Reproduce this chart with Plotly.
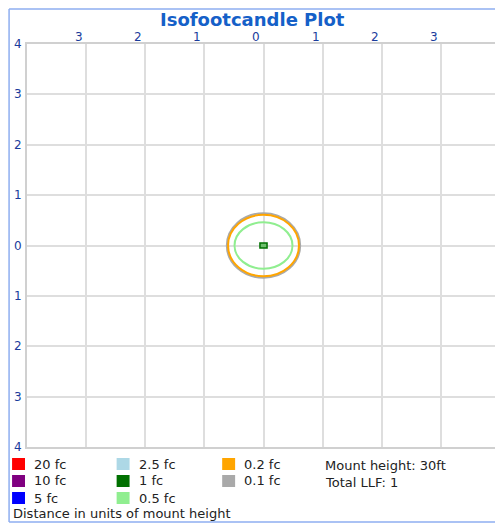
import plotly.graph_objects as go

# ---- data ----
x_ticks = [-3, -2, -1, 0, 1, 2, 3]
y_ticks = [4, 3, 2, 1, 0, -1, -2, -3, -4]
levels = ["20 fc", "10 fc", "5 fc", "2.5 fc", "1 fc", "0.5 fc", "0.2 fc", "0.1 fc"]
level_colors = ["#ff0000", "#800080", "#0000ff", "#add8e6", "#007000", "#90ee90", "#ffa500", "#a9a9a9"]
# contour radius (units of mount height) for the levels that are drawn
contour_levels = ["0.1 fc", "0.2 fc", "0.5 fc", "1 fc"]
contour_rx = [0.62, 0.60, 0.49, 0.06]
contour_ry = [0.64, 0.61, 0.46, 0.05]
info_lines = ["Mount height: 30ft", "Total LLF: 1"]
footer = "Distance in units of mount height"

# page has an 8px body margin; compensate so the picture lands at window coordinates
OX, OY = 8, 8
WIN_W, WIN_H = 503, 531
W, H = WIN_W - OX + 6, WIN_H - 2 * OY
L, T = 27 - OX, 44 - OY
R = 7
B = (OY + H) - 447
pw, ph = W - L - R, H - T - B


def px(x):
    return (x - OX - L) / pw


def py(y):
    return (T + ph - (y - OY)) / ph


fig = go.Figure()
fig.add_trace(go.Scatter(x=[0], y=[0], mode="markers", marker=dict(opacity=0), hoverinfo="skip", showlegend=False))

shapes = []
color_of = dict(zip(levels, level_colors))
for lev, rx, ry in zip(contour_levels, contour_rx, contour_ry):
    c = color_of[lev]
    if lev == "1 fc":
        shapes.append(dict(type="rect", xref="x", yref="y", x0=-rx, x1=rx, y0=-ry, y1=ry,
                           line=dict(color=c, width=1.5), fillcolor="#6fbf6f"))
    else:
        shapes.append(dict(type="circle", xref="x", yref="y", x0=-rx, x1=rx, y0=-ry, y1=ry,
                           line=dict(color=c, width=2)))

# outer light-blue frame (left, top, bottom edges)
fx0, fx1, fy0, fy1 = px(9), px(520), py(522), py(9)
for seg in [(fx0, fy1, fx1, fy1), (fx0, fy0, fx1, fy0), (fx0, fy0, fx0, fy1)]:
    shapes.append(dict(type="line", xref="paper", yref="paper", x0=seg[0], y0=seg[1], x1=seg[2], y1=seg[3],
                       line=dict(color="#8eaef0", width=1.5), layer="below"))

annotations = []
tick_color = "#1a3c9c"
tick_font = dict(family="DejaVu Sans", size=12, color=tick_color)
for v in x_ticks:
    annotations.append(dict(x=v - 0.12, y=py(37), xref="x", yref="paper", text=str(abs(v)),
                            showarrow=False, font=tick_font, xanchor="center", yanchor="middle"))
for v in y_ticks:
    annotations.append(dict(x=px(18), y=v, xref="paper", yref="y", text=str(abs(v)),
                            showarrow=False, font=tick_font, xanchor="center", yanchor="middle"))

# legend
text_font = dict(family="DejaVu Sans", size=13, color="#222222")
col_x = [12, 117, 223]
row_y = [464, 481, 498]
for i, (lev, c) in enumerate(zip(levels, level_colors)):
    col, row = i // 3, i % 3
    x0 = col_x[col]
    yc = row_y[row]
    shapes.append(dict(type="rect", xref="paper", yref="paper", x0=px(x0), x1=px(x0 + 13),
                       y0=py(yc + 6), y1=py(yc - 6), line=dict(width=0), fillcolor=c))
    annotations.append(dict(x=px(x0 + 20), y=py(yc), xref="paper", yref="paper", text=lev,
                            showarrow=False, font=text_font, xanchor="left", yanchor="middle"))
for j, t in enumerate(info_lines):
    annotations.append(dict(x=px(324), y=py(465 + 17 * j), xref="paper", yref="paper", text=t,
                            showarrow=False, font=text_font, xanchor="left", yanchor="middle"))
annotations.append(dict(x=px(12), y=py(522), xref="paper", yref="paper", text=footer,
                        showarrow=False, font=text_font, xanchor="left", yanchor="bottom", borderpad=0))

annotations.append(dict(x=px(253), y=py(8), xref="paper", yref="paper", text="<b>Isofootcandle Plot</b>",
                        showarrow=False, xanchor="center", yanchor="top", borderpad=0,
                        font=dict(family="DejaVu Sans", size=18, color="#1560c8")))

fig.update_layout(
    width=W, height=H,
    margin=dict(l=L, r=R, t=T, b=B, pad=0),
    paper_bgcolor="white", plot_bgcolor="white",
    xaxis=dict(range=[-4, 4], tickvals=x_ticks, showticklabels=False, ticks="",
               showgrid=True, gridcolor="#dedede", gridwidth=2, zeroline=True, zerolinecolor="#dedede",
               zerolinewidth=2, showline=True, linecolor="#d0d0d0", linewidth=2, mirror=True,
               side="top", fixedrange=True),
    yaxis=dict(range=[-4, 4], tickvals=[3, 2, 1, 0, -1, -2, -3], showticklabels=False, ticks="",
               showgrid=True, gridcolor="#dedede", gridwidth=2, zeroline=True, zerolinecolor="#dedede",
               zerolinewidth=2, showline=True, linecolor="#d0d0d0", linewidth=2, mirror=True,
               fixedrange=True),
    shapes=shapes,
    annotations=annotations,
    showlegend=False,
)

fig.write_html("out.html")
